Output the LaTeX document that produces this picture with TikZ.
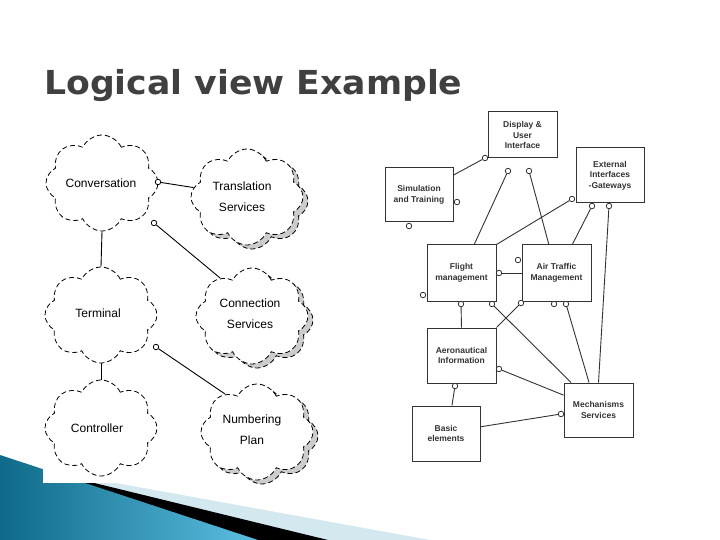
\documentclass[tikz,border=0pt]{standalone}
\usepackage{fontspec}
\setmainfont{Liberation Sans}
\newfontfamily\titlefont{DejaVu Sans}
\usetikzlibrary{shapes.symbols}
\definecolor{titlegray}{HTML}{404040}
\definecolor{tealdark}{HTML}{0E6A88}
\definecolor{teallight}{HTML}{5CBEE2}
\definecolor{stripblue}{HTML}{D3E8EF}
\definecolor{boxgray}{HTML}{333333}
\tikzset{
  pkg/.style={cloud, cloud puffs=8, cloud puff arc=130, cloud ignores aspect, shape border rotate=22.5, draw,
    dash pattern=on 5bp off 3bp, line width=0.8bp, fill=white, minimum width=112bp, minimum height=96bp, inner sep=0pt},
  pkgshadow/.style={pkg, fill=gray!40},
  pkgtext/.style={align=center, inner sep=0pt, font=\fontsize{12bp}{21bp}\selectfont},
  subsys/.style={draw=boxgray, line width=1bp, fill=white, minimum width=69bp, minimum height=55bp,
    align=center, inner sep=0pt, text=boxgray, font=\bfseries\fontsize{8.5bp}{10.5bp}\selectfont},
  lolli/.style={circle, draw=boxgray, fill=white, line width=0.8bp, minimum size=5.5bp, inner sep=0pt},
  link/.style={draw=boxgray, line width=0.9bp},
}

\begin{document}
\begin{tikzpicture}[x=1bp, y=-1bp]
			%%%%% START %%%%%
			\useasboundingbox[fill=white] (0, 0) rectangle (720, 540);
			
			% bottom band
			\fill[stripblue] (0, 462) -- (430, 540) -- (0, 540) -- cycle;
			\fill[black] (0, 460) -- (328, 540) -- (0, 540) -- cycle;
			\shade[left color=tealdark, right color=teallight] (0, 455) -- (258, 540) -- (0, 540) -- cycle;
			\fill[white] (43, 128) rectangle (330, 483);
			
			% title
			\node[anchor=base west, inner sep=0pt, text=titlegray, font=\titlefont\bfseries\fontsize{33bp}{40bp}\selectfont] (title) at (44, 95) {\scalebox{1.05}[1]{Logical view Example}};
			
			% left: packages
			\node[pkg] (conv) at (102, 183) {};
			\node[pkgshadow] (trans-sh) at (252, 201) {};
			\node[pkg] (trans) at (247, 197) {};
			\node[pkg] (term) at (101, 315) {};
			\node[pkgshadow] (conn-sh) at (257, 320) {};
			\node[pkg] (conn) at (252, 316) {};
			\node[pkg] (ctrl) at (101, 428) {};
			\node[pkgshadow] (numb-sh) at (262, 436) {};
			\node[pkg] (numb) at (257, 432) {};
			
			\node[pkgtext] (conv-txt) at (101, 183) {Conversation};
			\node[pkgtext] (trans-txt) at (242, 197) {Translation\\Services};
			\node[pkgtext] (term-txt) at (98, 313) {Terminal};
			\node[pkgtext] (conn-txt) at (250, 314) {Connection\\Services};
			\node[pkgtext] (ctrl-txt) at (97, 428) {Controller};
			\node[pkgtext] (numb-txt) at (252, 430) {Numbering\\Plan};
			
			\node[lolli, draw=black] (conv-o1) at (158, 182) {};
			\node[lolli, draw=black] (conv-o2) at (154, 223) {};
			\node[lolli, draw=black] (term-o1) at (156, 347) {};
			
			\draw[line width=0.9bp] (conv-o1) -- (trans.170);
			\draw[line width=0.9bp] (conv-o2) -- (conn.130);
			\draw[line width=0.9bp] (term-o1) -- (numb.130);
			\draw[line width=0.9bp] (conv.south) -- (term.north);
			\draw[line width=0.9bp] (term.south) -- (ctrl.north);
			
			% right: subsystems
			\node[subsys, minimum height=46bp] (disp) at (522.5, 135) {Display \&\\User\\Interface};
			\node[subsys, minimum width=68bp, minimum height=54bp] (sim) at (419, 195) {Simulation\\and Training};
			\node[subsys, minimum width=68bp] (ext) at (610, 175.5) {External\\Interfaces\\-Gateways};
			\node[subsys, minimum height=56bp] (flight) at (461.5, 273) {Flight\\management};
			\node[subsys, minimum height=56bp] (atm) at (556.5, 273) {Air Traffic\\Management};
			\node[subsys] (aero) at (461.5, 355.5) {Aeronautical\\Information};
			\node[subsys, minimum width=68bp] (basic) at (446, 433.5) {Basic\\elements};
			\node[subsys, minimum height=54bp] (mech) at (598.5, 410) {Mechanisms\\Services};
			
			\node[lolli] (disp-o1) at (485, 158) {};
			\node[lolli] (disp-o2) at (508, 171) {};
			\node[lolli] (disp-o3) at (529, 171) {};
			\node[lolli] (sim-o1) at (457, 202) {};
			\node[lolli] (sim-o2) at (409, 226) {};
			\node[lolli] (ext-o1) at (572, 199) {};
			\node[lolli] (ext-o2) at (592, 206) {};
			\node[lolli] (ext-o3) at (609, 206) {};
			\node[lolli] (atm-o1) at (518, 260) {};
			\node[lolli] (flight-o1) at (499, 273) {};
			\node[lolli] (flight-o2) at (423, 295) {};
			\node[lolli] (flight-o3) at (461, 304) {};
			\node[lolli] (flight-o4) at (492, 304) {};
			\node[lolli] (atm-o2) at (521, 303) {};
			\node[lolli] (atm-o3) at (554, 304) {};
			\node[lolli] (atm-o4) at (566, 304) {};
			\node[lolli] (aero-o1) at (499, 369) {};
			\node[lolli] (aero-o2) at (455, 386) {};
			\node[lolli] (mech-o1) at (561, 414) {};
			
			\draw[link] (sim.30) -- (disp-o1);
			\draw[link] (disp-o2) -- (flight.66);
			\draw[link] (disp-o3) -- (atm.105);
			\draw[link] (ext-o1) -- (flight.north east);
			\draw[link] (ext-o2) -- (atm.61);
			\draw[link] (ext-o3) -- (mech.north);
			\draw[link] (flight-o1) -- (atm.west);
			\draw[link] (flight-o3) -- (aero.north);
			\draw[link] (flight-o4) -- (mech.135);
			\draw[link] (atm-o2) -- (aero.north east);
			\draw[link] (atm-o4) -- (mech.109);
			\draw[link] (aero-o1) -- (mech.157);
			\draw[link] (aero-o2) -- (basic.78);
			\draw[link] (basic.11) -- (mech-o1);
			
			%%%%% END %%%%%
\end{tikzpicture}
\end{document}
